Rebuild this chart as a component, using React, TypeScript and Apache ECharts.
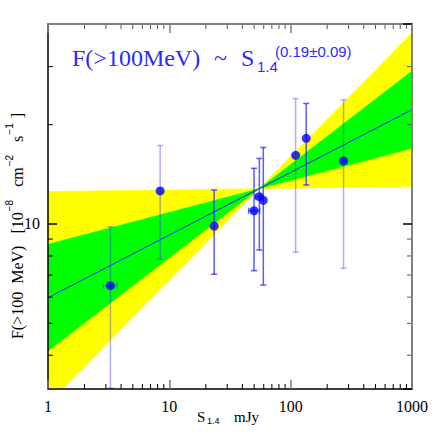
import React, { useEffect, useRef } from 'react';
import * as echarts from 'echarts';

// ---- data ----
const fluxS = [3.27, 8.4, 23.4, 49.9, 55.2, 59.5, 109.9, 134.4, 272.9];
const fluxF = [6.5, 12.6, 9.86, 10.97, 12.1, 11.8, 16.15, 18.19, 15.53];
const fluxLo = [3.18, 7.82, 7.04, 7.22, 8.34, 6.53, 8.21, 13.13, 7.34];
const fluxHi = [9.81, 17.3, 12.68, 14.75, 15.8, 17.06, 24.0, 23.2, 23.8];
const sLo: (number | null)[] = [2.85, null, null, 45.1, 51, null, null, null, 259];
const sHi: (number | null)[] = [3.7, null, null, 55.5, 57, null, null, null, 286];
const faint = [1, 1, 0, 0, 0, 0, 1, 0, 1];

// fit: F = pivotF * (S / pivotS) ^ index
const pivotS = 55;
const pivotF = 12.8;
const fitIndex = 0.19;
const band1 = [0.097, 0.283]; // 1 sigma slopes
const band2 = [0.005, 0.375]; // 2 sigma slopes

const xRange = [1, 1000];
const yRange = [3.16, 40.4];
const xMinorTicks = [2, 3, 4, 5, 6, 7, 8, 9, 20, 30, 40, 50, 60, 70, 80, 90, 200, 300, 400, 500, 600, 700, 800, 900];
const yMinorTicks = [4, 5, 6, 7, 8, 9, 20, 30];

const powerLaw = (s: number, slope: number) => pivotF * Math.pow(s / pivotS, slope);

const isDecade = (v: number) => {
  const l = Math.log10(v);
  return Math.abs(l - Math.round(l)) < 1e-6;
};

export default function App() {
  const ref = useRef<HTMLDivElement>(null);
  useEffect(() => {
    if (!ref.current) return;
    const chart = echarts.init(ref.current, null, { renderer: 'svg' });

    const bandSeries = (slopes: number[], color: string, z: number) => ({
      type: 'custom',
      coordinateSystem: 'cartesian2d',
      clip: true,
      z,
      silent: true,
      data: [[pivotS, pivotF]],
      renderItem: (params: any, api: any) => {
        const piv = api.coord([pivotS, pivotF]);
        const l1 = api.coord([xRange[0], powerLaw(xRange[0], slopes[0])]);
        const l2 = api.coord([xRange[0], powerLaw(xRange[0], slopes[1])]);
        const r1 = api.coord([xRange[1], powerLaw(xRange[1], slopes[0])]);
        const r2 = api.coord([xRange[1], powerLaw(xRange[1], slopes[1])]);
        return {
          type: 'group',
          children: [
            { type: 'polygon', shape: { points: [l1, piv, l2] }, style: { fill: color, stroke: color, lineWidth: 0.5 } },
            { type: 'polygon', shape: { points: [r1, piv, r2] }, style: { fill: color, stroke: color, lineWidth: 0.5 } },
          ],
        };
      },
    });

    const tickSeries = (vals: number[], horizontal: boolean) => ({
      type: 'custom',
      coordinateSystem: 'cartesian2d',
      z: 20,
      silent: true,
      data: vals.map((v) => (horizontal ? [v, 10] : [10, v])),
      renderItem: (params: any, api: any) => {
        const cs = params.coordSys;
        const p = api.coord([api.value(0), api.value(1)]);
        const len = 5;
        if (horizontal) {
          const x = p[0];
          return {
            type: 'group',
            children: [
              { type: 'line', shape: { x1: x, y1: cs.y + cs.height, x2: x, y2: cs.y + cs.height - len }, style: { stroke: '#000', lineWidth: 1 } },
              { type: 'line', shape: { x1: x, y1: cs.y, x2: x, y2: cs.y + len }, style: { stroke: '#555', lineWidth: 1 } },
            ],
          };
        }
        const y = p[1];
        return {
          type: 'group',
          children: [
            { type: 'line', shape: { x1: cs.x, y1: y, x2: cs.x + len, y2: y }, style: { stroke: '#000', lineWidth: 1 } },
            { type: 'line', shape: { x1: cs.x + cs.width, y1: y, x2: cs.x + cs.width - len, y2: y }, style: { stroke: '#555', lineWidth: 1 } },
          ],
        };
      },
    });

    const axisCommon = {
      type: 'log',
      logBase: 10,
      z: 20,
      splitLine: { show: false },
    };

    const option: any = {
      animation: false,
      backgroundColor: '#fff',
      grid: { left: 48, right: 24, top: 24, bottom: 47 },
      xAxis: [
        {
          ...axisCommon,
          min: xRange[0],
          max: xRange[1],
          position: 'bottom',
          axisLine: { show: true, onZero: false, lineStyle: { color: '#000', width: 1.5 } },
          axisTick: { show: true, inside: true, length: 9, lineStyle: { color: '#777', width: 1.5 } },
          axisLabel: {
            color: '#000',
            fontFamily: 'Liberation Serif',
            fontSize: 16,
            margin: 9,
            formatter: (v: number) => (isDecade(v) ? String(Math.round(v)) : ''),
          },
        },
        {
          ...axisCommon,
          min: xRange[0],
          max: xRange[1],
          position: 'top',
          axisLine: { show: true, onZero: false, lineStyle: { color: '#808080', width: 2 } },
          axisTick: { show: true, inside: true, length: 9, lineStyle: { color: '#808080', width: 1.5 } },
          axisLabel: { show: false },
        },
      ],
      yAxis: [
        {
          ...axisCommon,
          min: yRange[0],
          max: yRange[1],
          position: 'left',
          axisLine: { show: true, onZero: false, lineStyle: { color: '#000', width: 1.5 } },
          axisTick: { show: true, inside: true, length: 9, lineStyle: { color: '#000', width: 1.5 } },
          axisLabel: {
            color: '#000',
            fontFamily: 'Liberation Serif',
            fontSize: 16,
            margin: 8,
            showMinLabel: false,
            showMaxLabel: false,
            formatter: (v: number) => (isDecade(v) ? String(Math.round(v)) : ''),
          },
        },
        {
          ...axisCommon,
          min: yRange[0],
          max: yRange[1],
          position: 'right',
          axisLine: { show: true, onZero: false, lineStyle: { color: '#808080', width: 2 } },
          axisTick: { show: true, inside: true, length: 9, lineStyle: { color: '#000', width: 1.5 } },
          axisLabel: { show: false },
        },
      ],
      series: [
        bandSeries(band2, '#ffff00', 1),
        bandSeries(band1, '#00ff00', 2),
        {
          type: 'line',
          z: 3,
          silent: true,
          showSymbol: false,
          symbol: 'none',
          lineStyle: { color: '#2222ff', width: 1 },
          data: xRange.map((s) => [s, powerLaw(s, fitIndex)]),
        },
        {
          type: 'custom',
          coordinateSystem: 'cartesian2d',
          clip: true,
          z: 4,
          silent: true,
          data: fluxS.map((s, i) => [s, fluxF[i]]),
          renderItem: (params: any, api: any) => {
            const i = params.dataIndex;
            const c = faint[i] ? 'rgba(60,60,255,0.42)' : 'rgba(50,50,255,0.8)';
            const st = { stroke: c, lineWidth: 1.5 };
            const p = api.coord([fluxS[i], fluxF[i]]);
            const t = api.coord([fluxS[i], fluxHi[i]]);
            const b = api.coord([fluxS[i], fluxLo[i]]);
            const children: any[] = [
              { type: 'line', shape: { x1: p[0], y1: t[1], x2: p[0], y2: b[1] }, style: st },
              { type: 'line', shape: { x1: p[0] - 3, y1: t[1], x2: p[0] + 3, y2: t[1] }, style: st },
              { type: 'line', shape: { x1: p[0] - 3, y1: b[1], x2: p[0] + 3, y2: b[1] }, style: st },
            ];
            const lo = sLo[i];
            const hi = sHi[i];
            if (lo != null && hi != null) {
              const l = api.coord([lo, fluxF[i]]);
              const r = api.coord([hi, fluxF[i]]);
              children.push(
                { type: 'line', shape: { x1: l[0], y1: p[1], x2: r[0], y2: p[1] }, style: st },
                { type: 'line', shape: { x1: l[0], y1: p[1] - 3, x2: l[0], y2: p[1] + 3 }, style: st },
                { type: 'line', shape: { x1: r[0], y1: p[1] - 3, x2: r[0], y2: p[1] + 3 }, style: st }
              );
            }
            return { type: 'group', children };
          },
        },
        {
          type: 'scatter',
          z: 5,
          silent: true,
          symbol: 'circle',
          symbolSize: 9,
          itemStyle: { color: '#0000ff' },
          data: fluxS.map((s, i) => [s, fluxF[i]]),
        },
        tickSeries(xMinorTicks, true),
        tickSeries(yMinorTicks, false),
      ],
      graphic: [
        { type: 'text', x: 72, y: 58, z: 30, style: { text: 'F(>100MeV)', font: '24px "Liberation Serif"', fill: '#2a2aff', verticalAlign: 'middle' } },
        { type: 'text', x: 214, y: 58, z: 30, style: { text: '~', font: '24px "Liberation Serif"', fill: '#2a2aff', verticalAlign: 'middle' } },
        { type: 'text', x: 241, y: 58, z: 30, style: { text: 'S', font: '24px "Liberation Serif"', fill: '#2a2aff', verticalAlign: 'middle' } },
        { type: 'text', x: 257, y: 66, z: 30, style: { text: '1.4', font: '15px "Liberation Sans"', fill: '#2a2aff', verticalAlign: 'middle' } },
        { type: 'text', x: 275, y: 51, z: 30, style: { text: '(0.19±0.09)', font: '15px "Liberation Sans"', fill: '#2a2aff', verticalAlign: 'middle' } },
        { type: 'text', x: 197, y: 417, z: 30, style: { text: 'S', font: '15px "Liberation Serif"', fill: '#000', verticalAlign: 'middle' } },
        { type: 'text', x: 207, y: 421, z: 30, style: { text: '1.4', font: '9px "Liberation Sans"', fill: '#000', verticalAlign: 'middle' } },
        { type: 'text', x: 234, y: 417, z: 30, style: { text: 'mJy', font: '15px "Liberation Serif"', fill: '#000', verticalAlign: 'middle' } },
        {
          type: 'text',
          x: 15,
          y: 226,
          rotation: Math.PI / 2,
          z: 30,
          style: {
            text: '{a|F(>100  MeV)   [10}{b|−8}{a|   cm}{b|−2}{a|   s}{b|−1}{a| ]}',
            align: 'center',
            verticalAlign: 'middle',
            rich: {
              a: { fontSize: 16, fontFamily: 'Liberation Serif', fill: '#000', lineHeight: 21, verticalAlign: 'bottom' },
              b: { fontSize: 10, fontFamily: 'Liberation Sans', fill: '#000', verticalAlign: 'top', padding: [0, 1, 0, 1] },
            },
          },
        },
      ],
    };
    chart.setOption(option);
    return () => chart.dispose();
  }, []);
  return <div ref={ref} style={{ position: 'fixed', left: 0, top: 0, width: 436, height: 436 }} />;
}
